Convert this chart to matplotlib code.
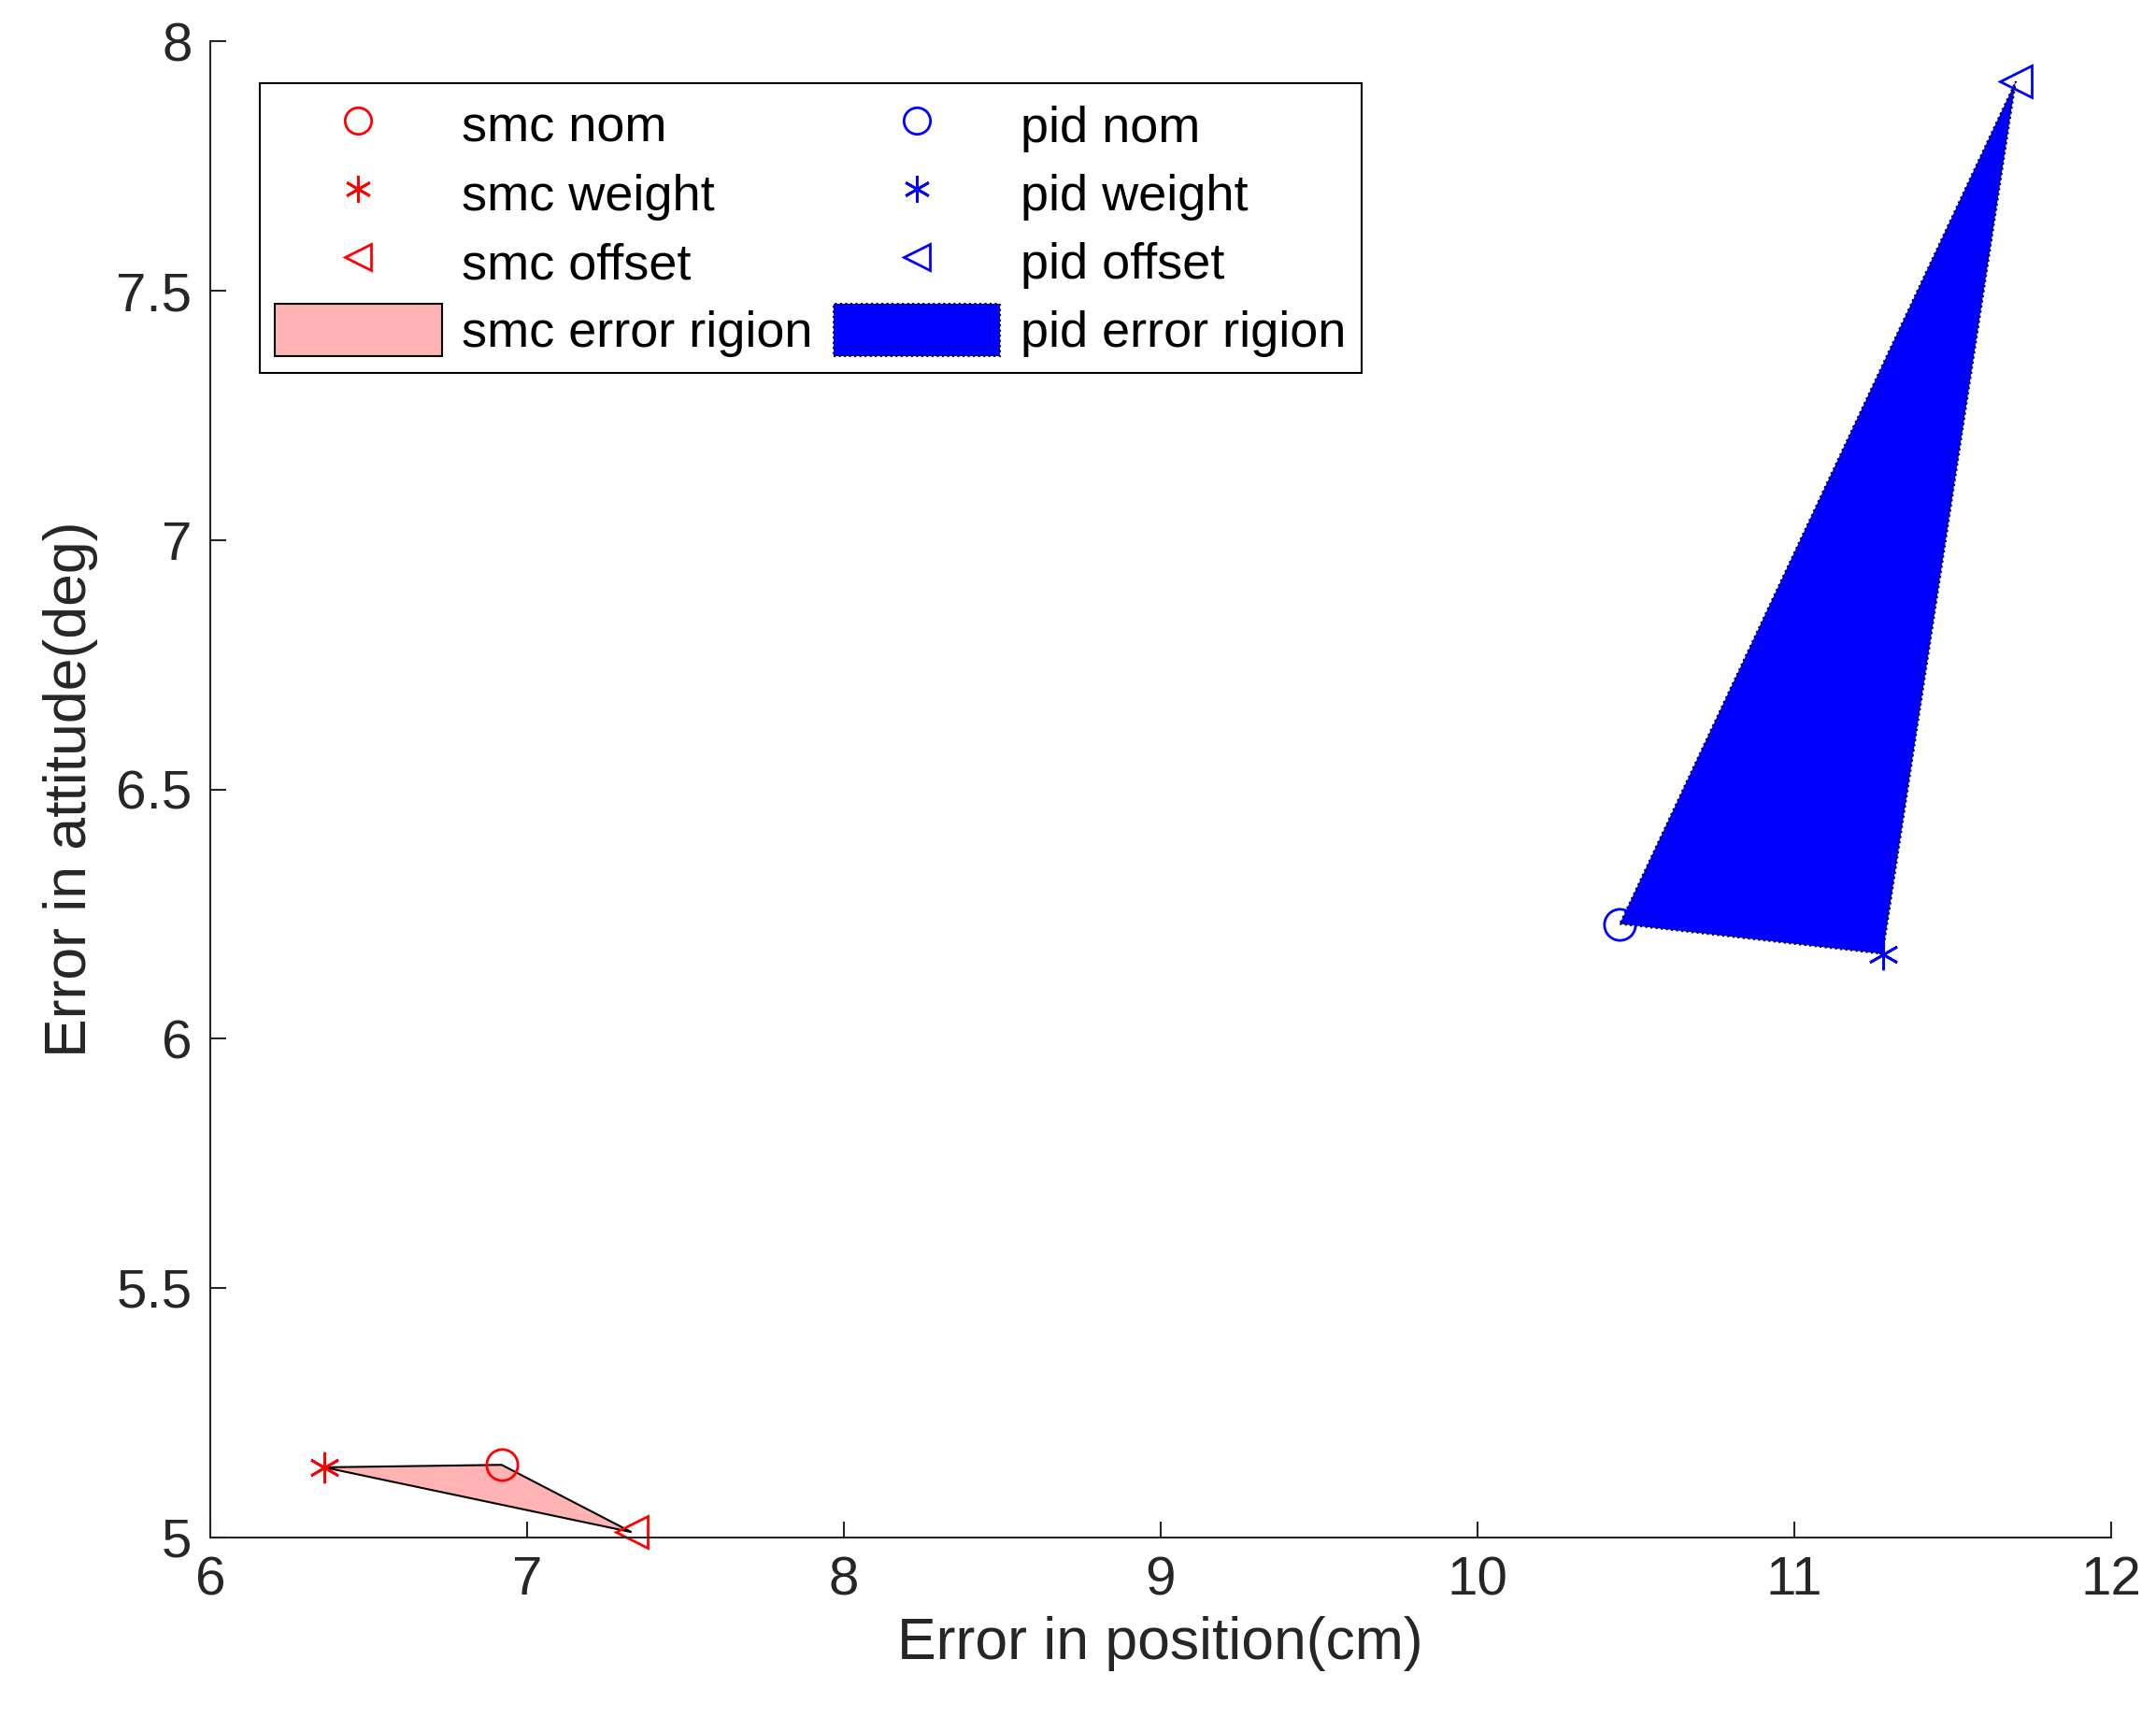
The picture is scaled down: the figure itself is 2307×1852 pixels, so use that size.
import matplotlib
matplotlib.use("Agg")
import matplotlib.pyplot as plt

smc_x = [6.92, 6.36, 7.33]   # nom, weight, offset
smc_y = [5.145, 5.14, 5.01]
pid_x = [10.45, 11.28, 11.70]
pid_y = [6.23, 6.17, 7.92]

plt.rcParams['font.family'] = ['Arial', 'Liberation Sans', 'DejaVu Sans']
fig = plt.figure(figsize=(23.07, 18.52), dpi=100)
ax = fig.add_axes([0.0975, 0.112, 0.8815, 0.864])

h_sr = ax.fill(smc_x, smc_y, facecolor=(1, 0.7, 0.7), edgecolor='black', linewidth=1.5)[0]
h_pr = ax.fill(pid_x, pid_y, facecolor='blue', edgecolor='black', linewidth=1.5, linestyle=':')[0]

ms = 24
ast = (6, 2, 0)
h1, = ax.plot(smc_x[0], smc_y[0], 'o', mfc='none', mec='red', ms=ms, mew=2, clip_on=False)
h2, = ax.plot(smc_x[1], smc_y[1], marker=ast, ls='none', color='red', ms=ms, mew=2, clip_on=False)
h3, = ax.plot(smc_x[2], smc_y[2], '<', mfc='none', mec='red', ms=ms, mew=2, clip_on=False)
h4, = ax.plot(pid_x[0], pid_y[0], 'o', mfc='none', mec='blue', ms=ms, mew=2, clip_on=False)
h5, = ax.plot(pid_x[1], pid_y[1], marker=ast, ls='none', color='blue', ms=ms, mew=2, clip_on=False)
h6, = ax.plot(pid_x[2], pid_y[2], '<', mfc='none', mec='blue', ms=ms, mew=2, clip_on=False)

ax.set_xlim(6, 12)
ax.set_ylim(5, 8)
ax.set_xticks([6, 7, 8, 9, 10, 11, 12])
ax.set_yticks([5, 5.5, 6, 6.5, 7, 7.5, 8])
ax.set_yticklabels(['5', '5.5', '6', '6.5', '7', '7.5', '8'])
ax.tick_params(direction='in', labelsize=42, length=12, width=1.5, colors='#262626', pad=14)
for s in ['top', 'right']:
    ax.spines[s].set_visible(False)
for s in ['left', 'bottom']:
    ax.spines[s].set_linewidth(1.5)
    ax.spines[s].set_color('#262626')
ax.set_xlabel('Error in position(cm)', fontsize=45, color='#262626', labelpad=8)
ax.set_ylabel('Error in attitude(deg)', fontsize=45, color='#262626', labelpad=14)

leg = ax.legend([h1, h2, h3, h_sr, h4, h5, h6, h_pr],
                ['smc nom', 'smc weight', 'smc offset', 'smc error rigion',
                 'pid nom', 'pid weight', 'pid offset', 'pid error rigion'],
                ncol=2, loc='upper left', bbox_to_anchor=(0.026, 0.972),
                fontsize=39, fancybox=False, edgecolor='black', framealpha=1,
                handlelength=3.3, handleheight=1.2, markerscale=0.85,
                columnspacing=0.4, labelspacing=0.3, borderaxespad=0,
                handletextpad=0.4, borderpad=0.3)
leg.get_frame().set_linewidth(1.5)
fig.savefig('out.png', dpi=100)
